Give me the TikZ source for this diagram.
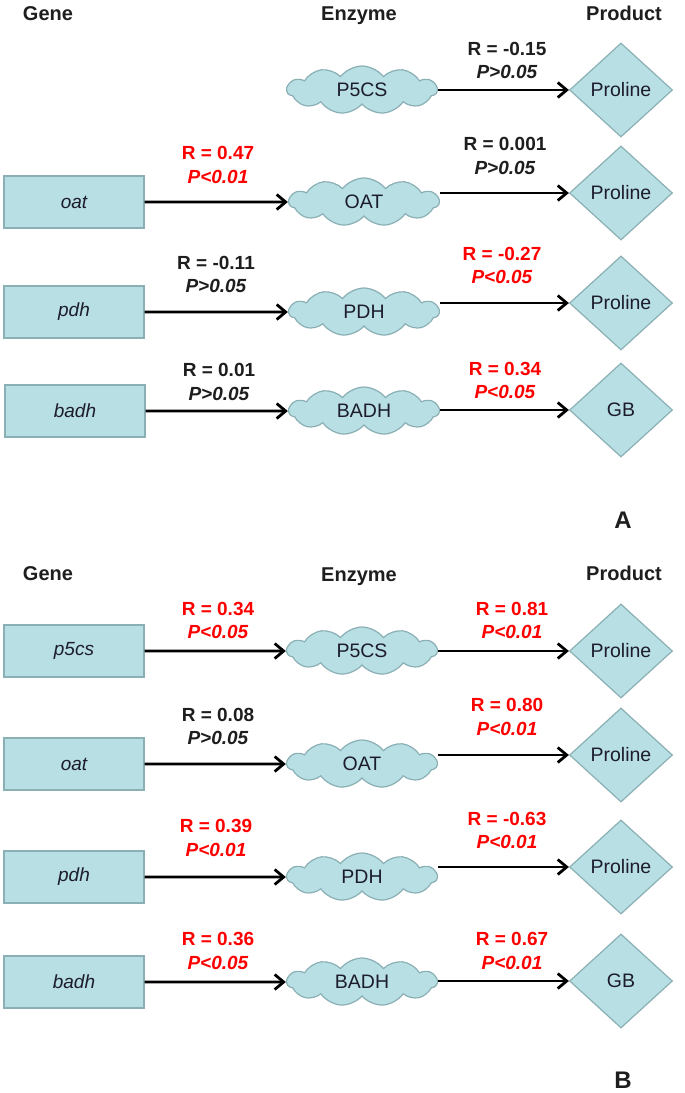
\documentclass[tikz,border=0pt]{standalone}
\usepackage{fontspec}
\setmainfont{Liberation Sans}
\usetikzlibrary{shapes.geometric,shapes.symbols,arrows.meta}
\definecolor{nodefill}{HTML}{B8DFE3}
\definecolor{nodeline}{HTML}{8AAFB4}
\definecolor{sigred}{HTML}{FF0000}
\definecolor{nsblack}{HTML}{1E1E1E}
\definecolor{nodetext}{HTML}{1C1C2C}
\begin{document}
\begin{tikzpicture}[x=1pt,y=-1pt,
  genebox/.style={rectangle, draw=nodeline, fill=nodefill, line width=1.2pt,
    minimum width=140pt, minimum height=52pt, inner sep=0pt,
    font={\fontsize{19}{22}\selectfont\itshape}, text=nodetext},
  enzcloud/.style={cloud, cloud puffs=11, cloud puff arc=105, cloud ignores aspect,
    draw=nodeline, fill=nodefill, line width=1.2pt,
    minimum width=150pt, minimum height=48pt, inner sep=0pt,
    font={\fontsize{19.5}{22}\selectfont}, text=nodetext},
  proddia/.style={diamond, draw=nodeline, fill=nodefill, line width=1.2pt,
    minimum width=103pt, minimum height=94pt, inner sep=0pt,
    font={\fontsize{19.5}{22}\selectfont}, text=nodetext},
  head/.style={anchor=base, font={\fontsize{20}{24}\selectfont\bfseries}, text=nsblack},
  panel/.style={anchor=base, font={\fontsize{24}{28}\selectfont\bfseries}, text=nsblack},
  sig/.style={align=center, text=sigred, font={\fontsize{19}{23.5}\selectfont\bfseries}},
  ns/.style={align=center, text=nsblack, font={\fontsize{19}{23.5}\selectfont\bfseries}},
  conn/.style={line width=2.8pt, draw=black, -{Straight Barb[length=9pt,width=15pt]}}
]
\path[use as bounding box] (0,0) rectangle (685,1093);

% ---------------- Panel A ----------------
\node[head] (hgA) at (48,20) {Gene};
\node[head] (heA) at (359,20) {Enzyme};
\node[head] (hpA) at (624,20) {Product};

\node[enzcloud] (c1) at (362,90) {P5CS};
\node[proddia] (d1) at (621,90) {Proline};

\node[genebox] (g2) at (74,202) {oat};
\node[enzcloud] (c2) at (364,202) {OAT};
\node[proddia] (d2) at (621,193) {Proline};

\node[genebox] (g3) at (74,312) {pdh};
\node[enzcloud] (c3) at (364,312) {PDH};
\node[proddia] (d3) at (621,303) {Proline};

\node[genebox] (g4) at (75,411) {badh};
\node[enzcloud] (c4) at (364,411) {BADH};
\node[proddia] (d4) at (621,410) {GB};

\draw[conn] (c1.east |- d1.west) -- (d1.west);
\draw[conn] (g2.east) -- (c2.west);
\draw[conn] (c2.east |- d2.west) -- (d2.west);
\draw[conn] (g3.east) -- (c3.west);
\draw[conn] (c3.east |- d3.west) -- (d3.west);
\draw[conn] (g4.east) -- (c4.west);
\draw[conn] (c4.east |- d4.west) -- (d4.west);

\node[ns]  (r1) at (507,60.5) {R = -0.15\\\textit{P>0.05}};
\node[sig] (l2) at (218,165) {R = 0.47\\\textit{P<0.01}};
\node[ns]  (r2) at (505,156) {R = 0.001\\\textit{P>0.05}};
\node[ns]  (l3) at (216,274.5) {R = -0.11\\\textit{P>0.05}};
\node[sig] (r3) at (502,265.5) {R = -0.27\\\textit{P<0.05}};
\node[ns]  (l4) at (219,382) {R = 0.01\\\textit{P>0.05}};
\node[sig] (r4) at (505,380.5) {R = 0.34\\\textit{P<0.05}};

\node[panel] (pA) at (623,528) {A};

% ---------------- Panel B ----------------
\node[head] (hgB) at (48,580) {Gene};
\node[head] (heB) at (359,581) {Enzyme};
\node[head] (hpB) at (624,580) {Product};

\node[genebox] (g5) at (74,651) {p5cs};
\node[enzcloud] (c5) at (362,651) {P5CS};
\node[proddia] (d5) at (621,651) {Proline};

\node[genebox] (g6) at (74,764) {oat};
\node[enzcloud] (c6) at (362,764) {OAT};
\node[proddia] (d6) at (621,755) {Proline};

\node[genebox] (g7) at (74,877) {pdh};
\node[enzcloud] (c7) at (362,877) {PDH};
\node[proddia] (d7) at (621,867) {Proline};

\node[genebox] (g8) at (74,982) {badh};
\node[enzcloud] (c8) at (362,982) {BADH};
\node[proddia] (d8) at (621,981) {GB};

\draw[conn] (g5.east) -- (c5.west);
\draw[conn] (c5.east |- d5.west) -- (d5.west);
\draw[conn] (g6.east) -- (c6.west);
\draw[conn] (c6.east |- d6.west) -- (d6.west);
\draw[conn] (g7.east) -- (c7.west);
\draw[conn] (c7.east |- d7.west) -- (d7.west);
\draw[conn] (g8.east) -- (c8.west);
\draw[conn] (c8.east |- d8.west) -- (d8.west);

\node[sig] (l5) at (218,620.5) {R = 0.34\\\textit{P<0.05}};
\node[sig] (r5) at (512,620.5) {R = 0.81\\\textit{P<0.01}};
\node[ns]  (l6) at (218,726.5) {R = 0.08\\\textit{P>0.05}};
\node[sig] (r6) at (507,717) {R = 0.80\\\textit{P<0.01}};
\node[sig] (l7) at (216,838) {R = 0.39\\\textit{P<0.01}};
\node[sig] (r7) at (507,830.5) {R = -0.63\\\textit{P<0.01}};
\node[sig] (l8) at (218,951) {R = 0.36\\\textit{P<0.05}};
\node[sig] (r8) at (512,951) {R = 0.67\\\textit{P<0.01}};

\node[panel] (pB) at (623,1088) {B};
\end{tikzpicture}
\end{document}
